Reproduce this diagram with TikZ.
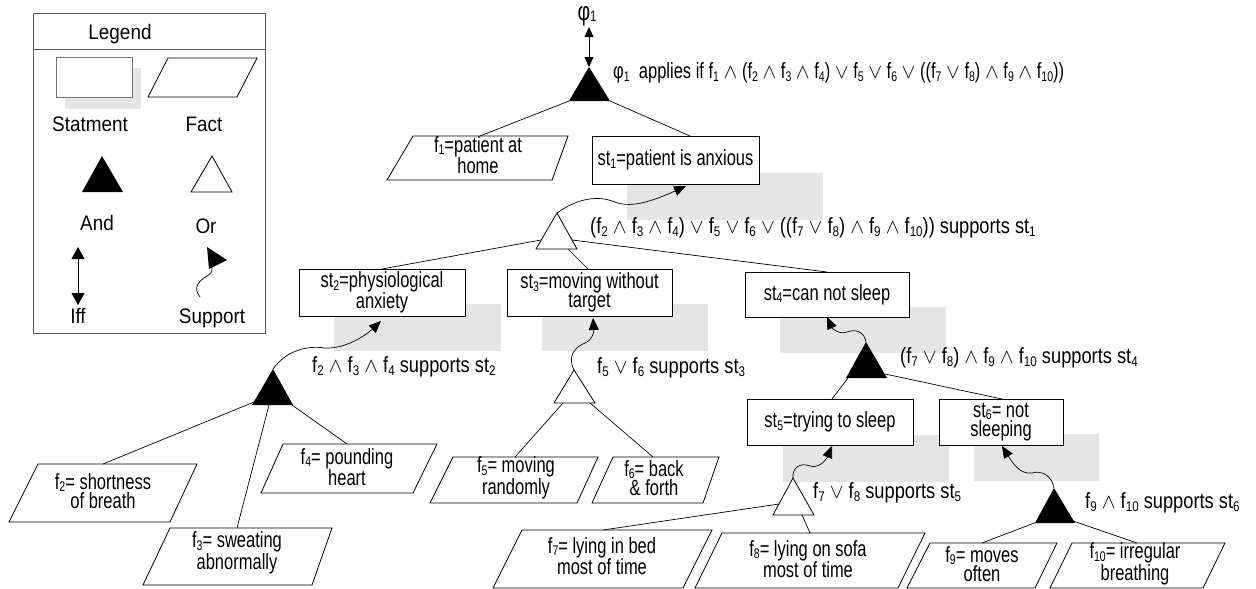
\documentclass[tikz,border=0pt]{standalone}
\usepackage{fontspec}
\usetikzlibrary{arrows.meta}
\newfontfamily\nf{Liberation Sans}[FakeStretch=0.75]
\newfontfamily\wf{Liberation Sans}[FakeStretch=0.83]
\newfontfamily\lf{Liberation Sans}[FakeStretch=0.9]
\newcommand\sbx[1]{\raisebox{-0.12em}{\fontsize{14}{14}\selectfont #1}}
\newcommand\AN{$\wedge$}
\newcommand\OR{$\vee$}
\definecolor{shgray}{RGB}{229,229,229}
\definecolor{lgray}{RGB}{90,90,90}
\tikzset{
  txt/.style={font=\nf\fontsize{22}{19.5}\selectfont, align=center, inner sep=0pt},
  labtxt/.style={font=\wf\fontsize{22}{19.5}\selectfont, inner sep=0pt, anchor=west},
  lgtxt/.style={font=\lf\fontsize{21}{18}\selectfont, inner sep=0pt, anchor=base},
  stbox/.style={draw, fill=white, line width=0.8pt, txt},
  fact/.style={draw, fill=white, line width=0.8pt, line join=miter},
  ln/.style={line width=0.7pt},
  andtri/.style={fill=black},
  ortri/.style={draw, fill=white, line width=0.8pt},
  sup/.style={line width=0.7pt, -{Triangle[width=10pt,length=12pt]}},
  iffar/.style={line width=0.8pt, {Triangle[width=9pt,length=10pt]}-{Triangle[width=9pt,length=10pt]}},
}
\begin{document}
\begin{tikzpicture}[x=1pt,y=-1pt]
\useasboundingbox (0,0) rectangle (1256,589);

% ---------------- Legend ----------------
\draw[lgray, line width=0.9pt] (33,13) rectangle (265,333);
\draw[lgray, line width=0.9pt] (33,49) -- (265,49);
\node[lgtxt] (lgtitle) at (120,39) {Legend};
\fill[shgray] (65,68) rectangle (141,109);
\draw[fill=white, draw=black!55, line width=0.9pt] (56,57) rectangle (132,97);
\draw[fact] (168,58) -- (257,58) -- (237,97) -- (148,97) -- cycle;
\node[lgtxt] (lgst) at (90,131) {Statment};
\node[lgtxt] (lgfa) at (204,131) {Fact};
\fill[andtri] (102,156) -- (123,192) -- (82,192) -- cycle;
\draw[ortri] (212,156) -- (232,192) -- (191,192) -- cycle;
\node[lgtxt] (lgand) at (97,230) {And};
\node[lgtxt] (lgor) at (206,233) {Or};
\coordinate (lgiffa) at (78,247);
\coordinate (lgiffb) at (78,305);
\draw[line width=0.8pt, {Triangle[width=13pt,length=12pt]}-{Triangle[width=13pt,length=12pt]}] (lgiffa) -- (lgiffb);
\node[lgtxt] (lgiff) at (78,323) {Iff};
\coordinate (lgsa) at (200,297);
\coordinate (lgsb) at (212,267);
\draw[ln] (lgsa) .. controls (192,287) and (200,280) .. (207,276) .. controls (212,273) and (213,270) .. (lgsb);
\fill (207,247) -- (227,260) -- (209,269) -- cycle;
\node[lgtxt] (lgsup) at (212,323) {Support};

% ---------------- Shadows ----------------
\fill[shgray] (627,173) rectangle (823,220);
\fill[shgray] (334,304) rectangle (501,351);
\fill[shgray] (542,304) rectangle (708,351);
\fill[shgray] (780,307) rectangle (946,353);
\fill[shgray] (783,435) rectangle (949,482);
\fill[shgray] (974,434) rectangle (1099,481);

% ---------------- Top ----------------
\node[inner sep=0pt, font=\nf\fontsize{26}{26}\selectfont] (phi) at (587,16) {φ\raisebox{-0.05em}{\fontsize{15}{15}\selectfont 1}};
\coordinate (phib) at (589,27);
\coordinate (t0a) at (589,67);
\coordinate (t0l) at (569,101);
\coordinate (t0r) at (610,101);
\draw[iffar] (phib) -- (t0a);
\fill[andtri] (t0a) -- (t0r) -- (t0l) -- cycle;
\node[txt, anchor=west] (lab0) at (613,73) {φ\sbx{1}\ \ applies if f\sbx{1} \AN{} (f\sbx{2} \AN{} f\sbx{3} \AN{} f\sbx{4}) \OR{} f\sbx{5} \OR{} f\sbx{6} \OR{} ((f\sbx{7} \OR{} f\sbx{8}) \AN{} f\sbx{9} \AN{} f\sbx{10}))};

% f1
\draw[fact] (413,136) -- (568,136) -- (552,180) -- (387,180) -- cycle;
\node[txt] (f1) at (478,155) {f\sbx{1}=patient at\\home};
\coordinate (f1t) at (480,136);
% st1
\node[stbox, minimum width=167pt, minimum height=48pt] (st1) at (675.5,160) {st\sbx{1}=patient is anxious};
\coordinate (st1t) at (690,136);
\draw[ln] (t0l) -- (f1t);
\draw[ln] (t0r) -- (st1t);

% Or1
\coordinate (o1a) at (557,213);
\draw[ortri] (o1a) -- (577,249) -- (536,249) -- cycle;
\coordinate (o1l) at (541,240);
\coordinate (o1m) at (568,249);
\coordinate (o1r) at (572,240);
\coordinate (st1b) at (686,186);
\draw[sup] (o1a) .. controls (575,200) and (595,195) .. (612,201) .. controls (626,207) and (642,206) .. (st1b);
\node[labtxt] (lab1) at (590,228) {(f\sbx{2} \AN{} f\sbx{3} \AN{} f\sbx{4}) \OR{} f\sbx{5} \OR{} f\sbx{6} \OR{} ((f\sbx{7} \OR{} f\sbx{8}) \AN{} f\sbx{9} \AN{} f\sbx{10})) supports st\sbx{1}};

% st2 st3 st4
\node[stbox, minimum width=166pt, minimum height=47pt] (st2) at (382,292.5) {st\sbx{2}=physiological\\anxiety};
\node[stbox, minimum width=165pt, minimum height=47pt] (st3) at (589.5,292.5) {st\sbx{3}=moving without\\target};
\node[stbox, minimum width=164pt, minimum height=45pt] (st4) at (827,294.5) {st\sbx{4}=can not sleep};
\coordinate (st2t) at (382,269);
\coordinate (st3t) at (588,269);
\coordinate (st4t) at (827,272);
\draw[ln] (o1l) -- (st2t);
\draw[ln] (o1m) -- (st3t);
\draw[ln] (o1r) -- (st4t);

% And2 (st2)
\coordinate (a2a) at (273,369);
\fill[andtri] (a2a) -- (293,405) -- (252,405) -- cycle;
\coordinate (a2l) at (254,402);
\coordinate (a2m) at (269,405);
\coordinate (a2r) at (292,405);
\coordinate (st2b) at (381,321);
\draw[sup] (a2a) .. controls (285,352) and (305,345) .. (325,348) .. controls (345,349) and (365,336) .. (st2b);
\node[labtxt] (lab2) at (312,367) {f\sbx{2} \AN{} f\sbx{3} \AN{} f\sbx{4} supports st\sbx{2}};

\draw[fact] (38,464) -- (197,464) -- (170,522) -- (9,522) -- cycle;
\node[txt] (f2) at (103,491) {f\sbx{2}= shortness\\of breath};
\draw[fact] (170,528) -- (332,528) -- (312,585) -- (143,585) -- cycle;
\node[txt] (f3) at (237,553) {f\sbx{3}= sweating\\abnormally};
\draw[fact] (283,444) -- (437,444) -- (413,493) -- (261,493) -- cycle;
\node[txt] (f4) at (347,467) {f\sbx{4}= pounding\\heart};
\coordinate (f2t) at (103,464);
\coordinate (f3t) at (237,528);
\coordinate (f4t) at (347,444);
\draw[ln] (a2l) -- (f2t);
\draw[ln] (a2m) -- (f3t);
\draw[ln] (a2r) -- (f4t);

% Or3 (st3)
\coordinate (o3a) at (574,370);
\draw[ortri] (o3a) -- (595,403) -- (554,403) -- cycle;
\coordinate (o3l) at (563,403);
\coordinate (o3r) at (590,403);
\coordinate (st3b) at (593,318);
\draw[sup] (o3a) .. controls (567,356) and (575,347) .. (585,343) .. controls (592,340) and (594,333) .. (st3b);
\node[labtxt] (lab3) at (597,368) {f\sbx{5} \OR{} f\sbx{6} supports st\sbx{3}};

\draw[fact] (453,457) -- (598,457) -- (577,503) -- (430,503) -- cycle;
\node[txt] (f5) at (516,478) {f\sbx{5}= moving\\randomly};
\draw[fact] (613,457) -- (719,457) -- (703,503) -- (592,503) -- cycle;
\node[txt] (f6) at (654,478) {f\sbx{6}= back\\\& forth};
\coordinate (f5t) at (515,457);
\coordinate (f6t) at (653,457);
\draw[ln] (o3l) -- (f5t);
\draw[ln] (o3r) -- (f6t);

% And4 (st4)
\coordinate (a4a) at (866,342);
\fill[andtri] (a4a) -- (887,378) -- (846,378) -- cycle;
\coordinate (a4l) at (848,378);
\coordinate (a4r) at (885,374);
\coordinate (st4b) at (827,317);
\draw[sup] (a4a) .. controls (864,331) and (855,329) .. (847,332) .. controls (839,335) and (832,328) .. (st4b);
\node[labtxt] (lab4) at (900,358) {(f\sbx{7} \OR{} f\sbx{8}) \AN{} f\sbx{9} \AN{} f\sbx{10} supports st\sbx{4}};

\node[stbox, minimum width=166pt, minimum height=46pt] (st5) at (830,422) {st\sbx{5}=trying to sleep};
\node[stbox, minimum width=124pt, minimum height=46pt] (st6) at (1001,422) {st\sbx{6}= not\\sleeping};
\coordinate (st5t) at (832,399);
\coordinate (st6t) at (1002,399);
\draw[ln] (a4l) -- (st5t);
\draw[ln] (a4r) -- (st6t);

% Or5 (st5)
\coordinate (o5a) at (793,478);
\draw[ortri] (o5a) -- (814,515) -- (773,515) -- cycle;
\coordinate (o5l) at (779,504);
\coordinate (o5r) at (802,515);
\coordinate (st5b) at (832,446);
\draw[sup] (o5a) .. controls (792,468) and (800,462) .. (810,466) .. controls (820,469) and (827,458) .. (st5b);
\node[labtxt] (lab5) at (813,493) {f\sbx{7} \OR{} f\sbx{8} supports st\sbx{5}};

\draw[fact] (522,530) -- (712,530) -- (683,588) -- (493,588) -- cycle;
\node[txt] (f7) at (602,556) {f\sbx{7}= lying in bed\\most of time};
\draw[fact] (722,533) -- (925,533) -- (898,588) -- (695,588) -- cycle;
\node[txt] (f8) at (808,559) {f\sbx{8}= lying on sofa\\most of time};
\coordinate (f7t) at (603,530);
\coordinate (f8t) at (810,533);
\draw[ln] (o5l) -- (f7t);
\draw[ln] (o5r) -- (f8t);

% And6 (st6)
\coordinate (a6a) at (1054,488);
\fill[andtri] (a6a) -- (1075,523) -- (1035,523) -- cycle;
\coordinate (a6l) at (1037,522);
\coordinate (a6r) at (1073,521);
\coordinate (st6b) at (1002,446);
\draw[sup] (a6a) .. controls (1052,476) and (1042,470) .. (1032,473) .. controls (1020,475) and (1012,462) .. (st6b);
\node[labtxt] (lab6) at (1085,503) {f\sbx{9} \AN{} f\sbx{10} supports st\sbx{6}};

\draw[fact] (930,543) -- (1057,543) -- (1035,588) -- (907,588) -- cycle;
\node[txt] (f9) at (982,564) {f\sbx{9}= moves\\often};
\draw[fact] (1072,543) -- (1225,543) -- (1203,588) -- (1050,588) -- cycle;
\node[txt] (f10) at (1135,564) {f\sbx{10}= irregular\\breathing};
\coordinate (f9t) at (982,543);
\coordinate (f10t) at (1137,543);
\draw[ln] (a6l) -- (f9t);
\draw[ln] (a6r) -- (f10t);
\end{tikzpicture}
\end{document}
